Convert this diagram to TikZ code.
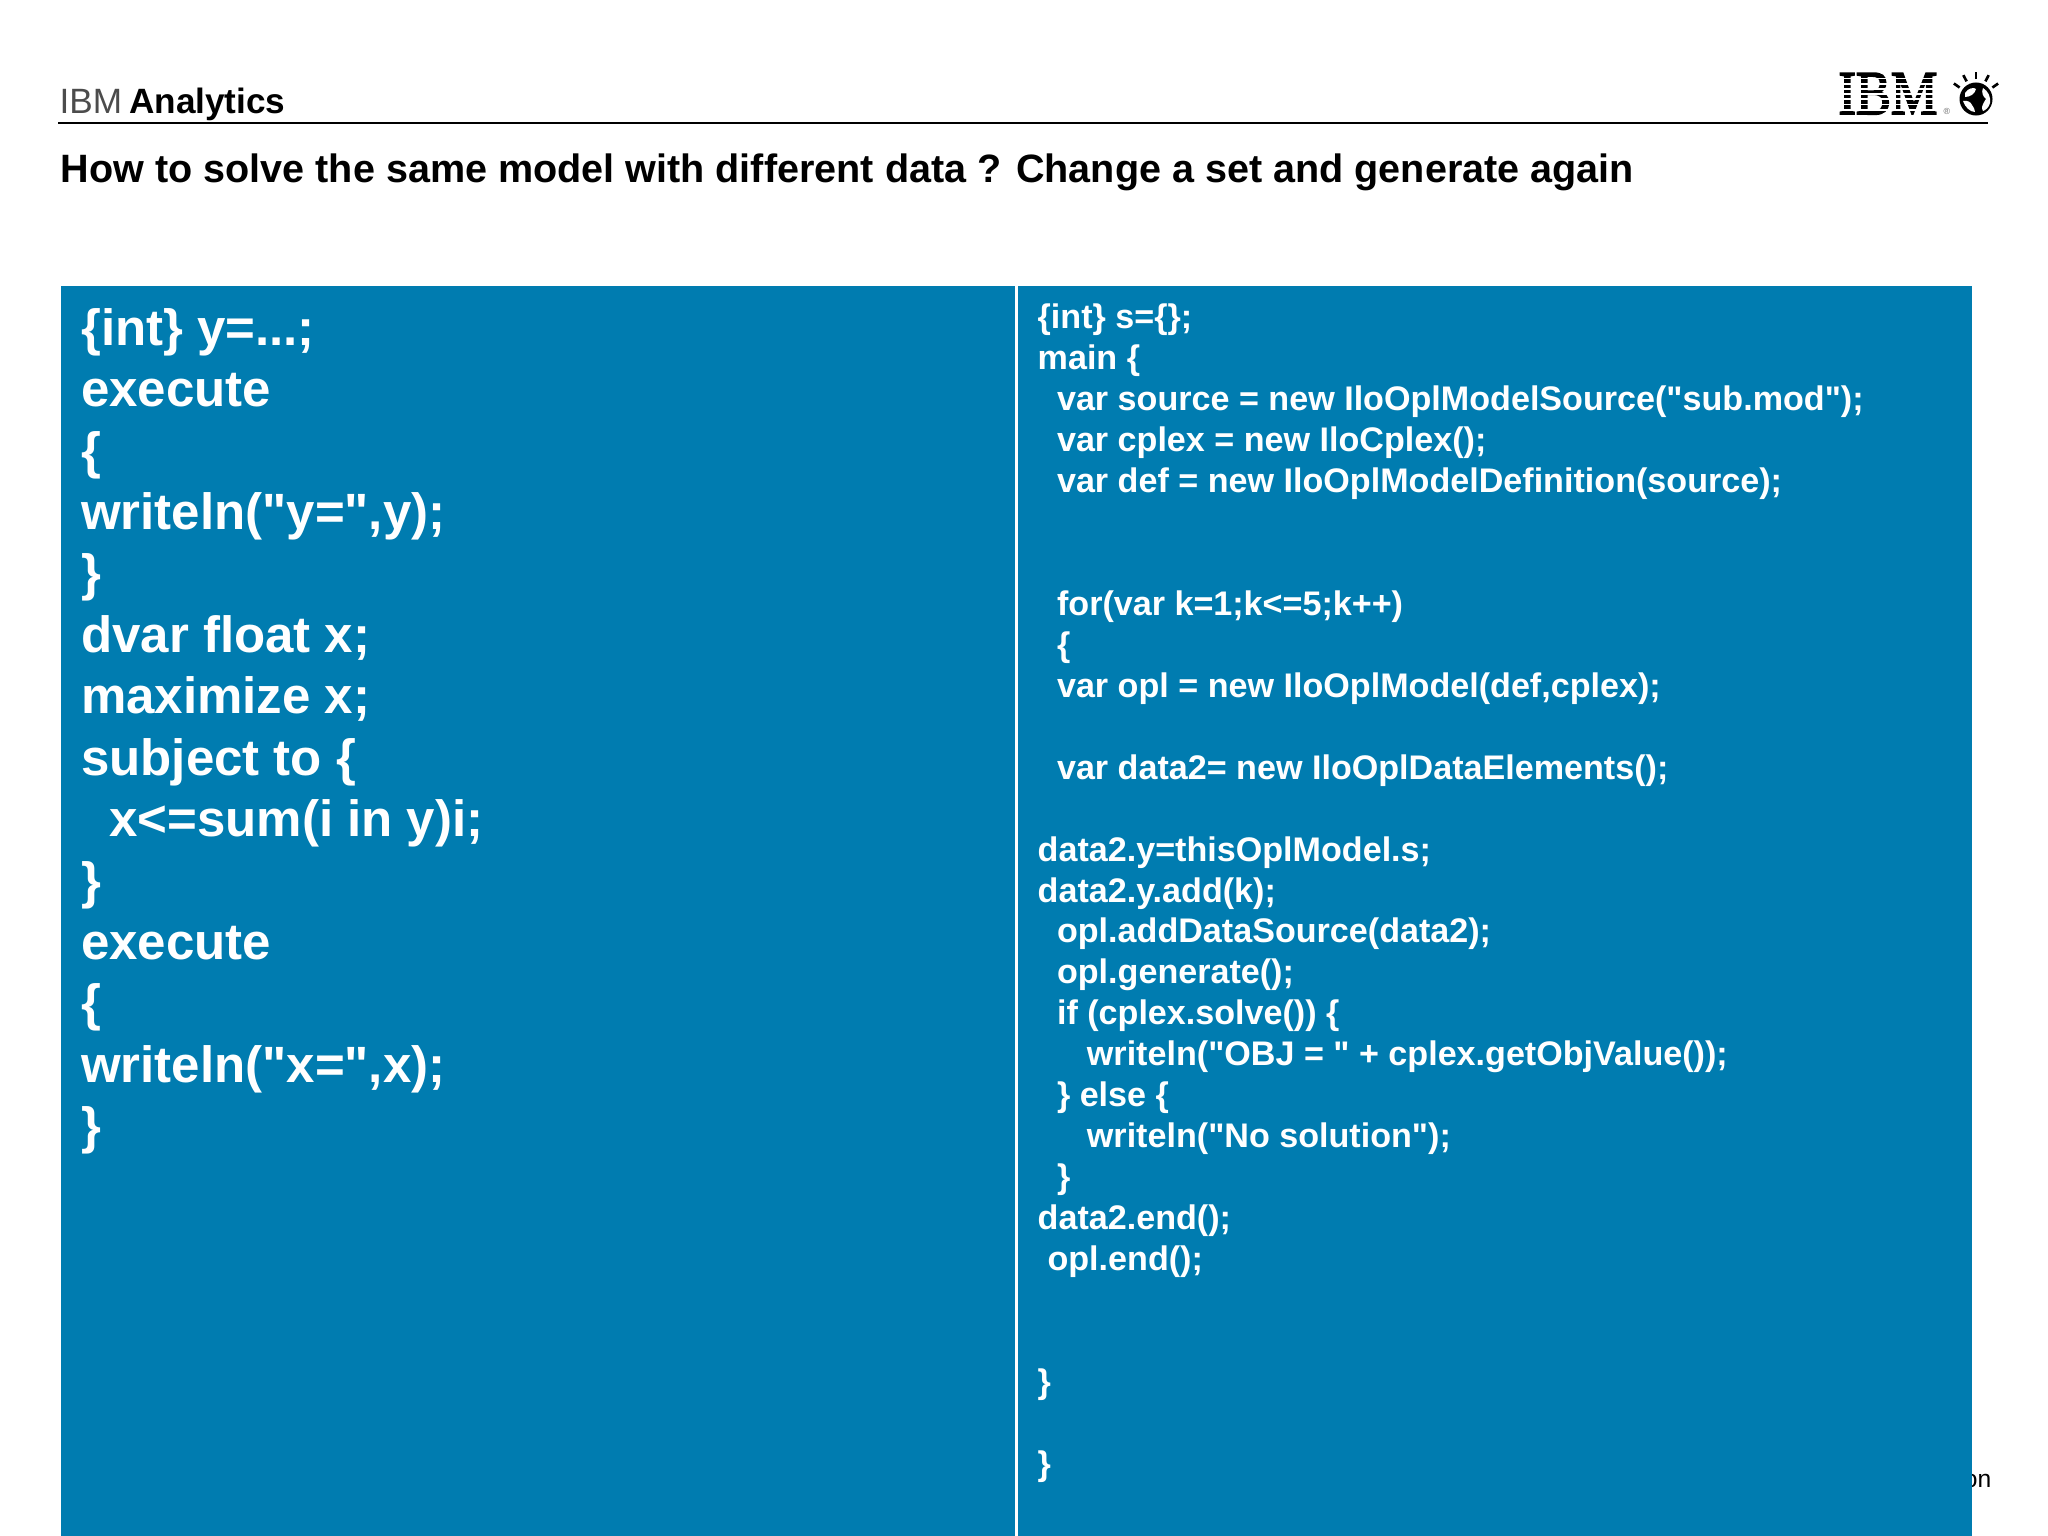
\documentclass[tikz,border=0pt]{standalone}
\usepackage{fontspec}
\setmainfont{Liberation Sans}[Ligatures=TeXOff]
\definecolor{panelblue}{HTML}{007CB0}
\tikzset{>=stealth}
\tikzset{
  codeleft/.style={anchor=north west, inner sep=0pt, align=left, text=white,
    font=\fontsize{14.5}{17.47}\selectfont\bfseries},
  coderight/.style={anchor=north west, inner sep=0pt, align=left, text=white,
    font=\fontsize{9.7}{11.64}\selectfont\bfseries},
  ray/.style={line width=0.75pt, black},
  stripe/.style={line width=0.5pt, white}
}
\newcommand{\ind}[1]{\hspace*{#1pt}}
\begin{document}
\begin{tikzpicture}[x=0.01cm, y=-0.01cm]
\useasboundingbox (0,0) rectangle (2048,1536);
% header
\node [anchor=base west, inner sep=0pt, font=\fontsize{10}{12}\selectfont] (brand) at (59,113)
  {\textcolor{black!70}{IBM}\hspace{-0.8pt} \textbf{Analytics}};
\coordinate (ruleL) at (58,123);
\coordinate (ruleR) at (1988,123);
\draw [line width=0.6pt] (ruleL) -- (ruleR);
\node [anchor=base west, inner sep=0pt, font=\fontsize{11.25}{14}\selectfont\bfseries] (title) at (60,182)
  {How to solve the same model with different data ? Change a set and generate again};
% footer text behind the panel
\node [anchor=base east, inner sep=0pt, font=\fontsize{7}{8}\selectfont] (foot) at (1992,1487) {on};
% panels
\fill [panelblue] (61,286) rectangle (1015,1536);
\fill [panelblue] (1018,286) rectangle (1972,1536);
\node [codeleft] (model) at (80.5,307.5) {%
\{int\} y=...;\\
execute\\
\{\\
writeln("y=",y);\\
\}\\
dvar float x;\\
maximize x;\\
subject to \{\\
\ind{8}x<=sum(i in y)i;\\
\}\\
execute\\
\{\\
writeln("x=",x);\\
\}};
\node [coderight] (flow) at (1037,303.5) {%
\{int\} s=\{\};\\
main \{\\
\ind{5.5}var source = new IloOplModelSource("sub.mod");\\
\ind{5.5}var cplex = new IloCplex();\\
\ind{5.5}var def = new IloOplModelDefinition(source);\\
\mbox{}\\
\mbox{}\\
\ind{5.5}for(var k=1;k<=5;k++)\\
\ind{5.5}\{\\
\ind{5.5}var opl = new IloOplModel(def,cplex);\\
\mbox{}\\
\ind{5.5}var data2= new IloOplDataElements();\\
\mbox{}\\
data2.y=thisOplModel.s;\\
data2.y.add(k);\\
\ind{5.5}opl.addDataSource(data2);\\
\ind{5.5}opl.generate();\\
\ind{5.5}if (cplex.solve()) \{\\
\ind{14}writeln("OBJ = " + cplex.getObjValue());\\
\ind{5.5}\} else \{\\
\ind{14}writeln("No solution");\\
\ind{5.5}\}\\
data2.end();\\
\ind{2.8}opl.end();\\
\mbox{}\\
\mbox{}\\
\}\\
\mbox{}\\
\}};
% logo
\node [anchor=base west, inner sep=0pt, xscale=0.84, font=\fontsize{17.7}{18}\selectfont] (logo) at (1838,114)
  {\fontspec{Liberation Serif}[FakeBold=3]IBM};
\foreach \y in {78.5,83.7,88.9,94.1,99.3,104.5,109.7}
\draw [stripe] (1835,\y) -- (1946,\y);
\node [circle, fill=black, minimum size=0.33cm, inner sep=0pt] (globe) at (1976,99) {};
\fill [white] (1965,93) .. controls (1968,88) and (1974,87) .. (1976,89) .. controls (1975,94) and (1970,97) .. (1965,97) -- cycle;
\fill [white] (1963,101) .. controls (1967,100) and (1971,102) .. (1972,105) .. controls (1974,108) and (1975,110) .. (1975,112) .. controls (1970,112) and (1965,107) .. (1963,101);
\fill [white] (1983,88) .. controls (1988,91) and (1991,97) .. (1990,103) .. controls (1989,107) and (1986,110) .. (1983,111) .. controls (1981,108) and (1982,105) .. (1986,99) .. controls (1983,97) and (1981,92) .. (1983,88);
\node [anchor=base west, inner sep=0pt, text=black!60, font=\fontsize{2.5}{3}\selectfont] (reg) at (1943,114) {®};
\foreach \a in {-145,-118,-90,-62,-35}
\draw [ray] (globe.center) ++(\a:20) -- ++(\a:7);
\end{tikzpicture}
\end{document}
